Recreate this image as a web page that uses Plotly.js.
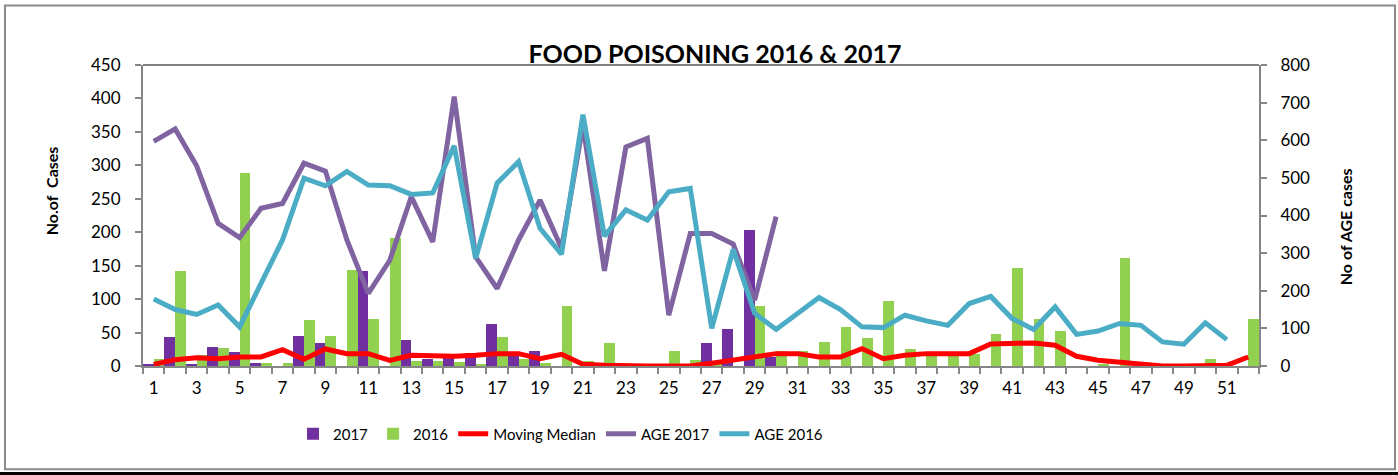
<!DOCTYPE html>
<html>
<head>
<meta charset="utf-8">
<script src="https://cdn.plot.ly/plotly-3.0.1.min.js"></script>
<style>
  html, body { margin: 0; padding: 0; background: #000; }
  #chart { width: 1398px; height: 472px; background: #fff; }
</style>
</head>
<body>
<div id="chart"></div>
<script>
// Week numbers 1..52
const weeks = Array.from({ length: 52 }, (_, i) => i + 1);
const xTicks = weeks.filter((w) => w % 2 === 1);

// Food poisoning cases per week (left axis)
const cases2017 = [2, 43, 3, 29, 21, 5, 0, 45, 35, 0, 142, 0, 39, 10, 12, 20, 63, 17, 23, 0,
  0, 0, 0, 0, 0, 0, 35, 56, 204, 13];
const cases2016 = [11, 142, 17, 27, 289, 5, 5, 69, 45, 144, 71, 192, 7, 8, 6, 3, 44, 10, 5, 89,
  8, 34, 0, 0, 22, 9, 3, 0, 89, 22, 22, 36, 59, 42, 97, 25, 15, 15, 18, 48,
  146, 70, 52, 0, 2, 161, 0, 0, 0, 11, 0, 71];
const movingMedian = [2.5, 9.5, 12.5, 11, 13.5, 13.5, 24.5, 10, 25.5, 18.5, 18.5, 8.5, 16, 15, 14.5, 16, 18.5, 18.5, 11, 17.5,
  2.5, 1, 0, 0, 0, 0, 4, 8.5, 13.5, 18.5, 18.5, 13.5, 13.5, 26, 11, 16, 18.5, 18.5, 18.5, 33,
  34.5, 34.5, 31, 14.5, 8.5, 6, 3.5, 0, 0, 0, 1, 13.5];

// AGE cases per week (right axis)
const age2017 = [597, 630, 532, 379, 341, 419, 432, 539, 518, 335, 193, 281, 450, 330, 716, 290, 206, 335, 441, 313,
  640, 253, 582, 605, 135, 352, 352, 324, 175, 397];
const age2016 = [178, 150, 137, 162, 104, 218, 335, 499, 479, 517, 481, 479, 456, 460, 585, 286, 486, 543, 366, 297,
  668, 345, 415, 388, 463, 472, 100, 310, 140, 97, 140, 182, 150, 104, 102, 135, 120, 108, 166, 185,
  126, 97, 157, 84, 93, 113, 108, 64, 58, 115, 70];

const FONT = "Lato, 'Open Sans', sans-serif";
const AXIS_GREY = "#868686";

const traces = [
  { x: weeks.slice(0, cases2017.length), y: cases2017, type: "bar", name: "2017",
    marker: { color: "#7030A0" } },
  { x: weeks, y: cases2016, type: "bar", name: "2016",
    marker: { color: "#92D050" } },
  { x: weeks, y: movingMedian, type: "scatter", mode: "lines", name: "Moving Median",
    line: { color: "#FF0000", width: 5 } },
  { x: weeks.slice(0, age2017.length), y: age2017, type: "scatter", mode: "lines", name: "AGE 2017",
    yaxis: "y2", line: { color: "#8064A2", width: 5 } },
  { x: weeks.slice(0, age2016.length), y: age2016, type: "scatter", mode: "lines", name: "AGE 2016",
    yaxis: "y2", line: { color: "#4BACC6", width: 5 } },
];

const layout = {
  width: 1398,
  height: 472,
  margin: { l: 143, r: 139, t: 65, b: 106 },
  paper_bgcolor: "#fff",
  plot_bgcolor: "#fff",
  font: { family: FONT, size: 17, color: "#000" },
  barmode: "group",
  bargap: 0,
  bargroupgap: 0,
  showlegend: true,
  title: {
    text: "<b>FOOD POISONING 2016 & 2017</b>",
    font: { family: FONT, size: 25, color: "#000" },
    xref: "paper", x: 0.5125, xanchor: "center",
    yref: "container", y: 1 - 54 / 472, yanchor: "middle",
  },
  xaxis: {
    range: [0.5, 52.5],
    tickmode: "array",
    tickvals: xTicks,
    ticktext: xTicks.map(String),
    ticks: "",
    ticklabelstandoff: 6,
    showline: true, linecolor: AXIS_GREY, linewidth: 2,
    showgrid: false, zeroline: false,
    minor: { tickmode: "linear", tick0: 0.5, dtick: 1, ticks: "outside", ticklen: 6, tickwidth: 1.5, tickcolor: AXIS_GREY, showgrid: false },
  },
  yaxis: {
    range: [0, 450], dtick: 50,
    ticks: "outside", ticklen: 6, tickwidth: 1.5, tickcolor: AXIS_GREY,
    ticklabelstandoff: 11,
    showline: true, linecolor: AXIS_GREY, linewidth: 2,
    showgrid: false, zeroline: false,
  },
  yaxis2: {
    range: [0, 800], dtick: 100,
    overlaying: "y", side: "right",
    ticks: "outside", ticklen: 6, tickwidth: 1.5, tickcolor: AXIS_GREY,
    ticklabelstandoff: 10,
    showline: true, linecolor: AXIS_GREY, linewidth: 2,
    showgrid: false, zeroline: false,
  },
  legend: {
    orientation: "h",
    x: (293 - 143) / 1116, xanchor: "left",
    y: -0.226, yanchor: "middle",
    font: { family: FONT, size: 15 },
    bgcolor: "rgba(0,0,0,0)",
  },
  annotations: [
    { text: "<b>No.of  Cases</b>", textangle: -90, xref: "paper", yref: "paper",
      x: (40 - 143) / 1116, y: (366 - 191) / 300.5, showarrow: false,
      font: { family: FONT, size: 16 } },
    { text: "<b>No of AGE cases</b>", textangle: -90, xref: "paper", yref: "paper",
      x: (1357 - 143) / 1116, y: (366 - 227) / 300.5, showarrow: false,
      font: { family: FONT, size: 16 } },
  ],
  shapes: [
    // plot area top edge
    { type: "line", xref: "paper", yref: "paper", x0: 0, x1: 1, y0: 1, y1: 1,
      line: { color: "#000", width: 1 } },
    // outer chart border
    { type: "rect", xref: "paper", yref: "paper",
      x0: (5 - 143) / 1116, x1: (1395 - 143) / 1116,
      y0: (366 - 469) / 300.5, y1: (366 - 6) / 300.5,
      line: { color: "#8a8a8a", width: 2 } },
  ],
};

Plotly.newPlot("chart", traces, layout, { displayModeBar: false, responsive: false });
</script>
</body>
</html>
